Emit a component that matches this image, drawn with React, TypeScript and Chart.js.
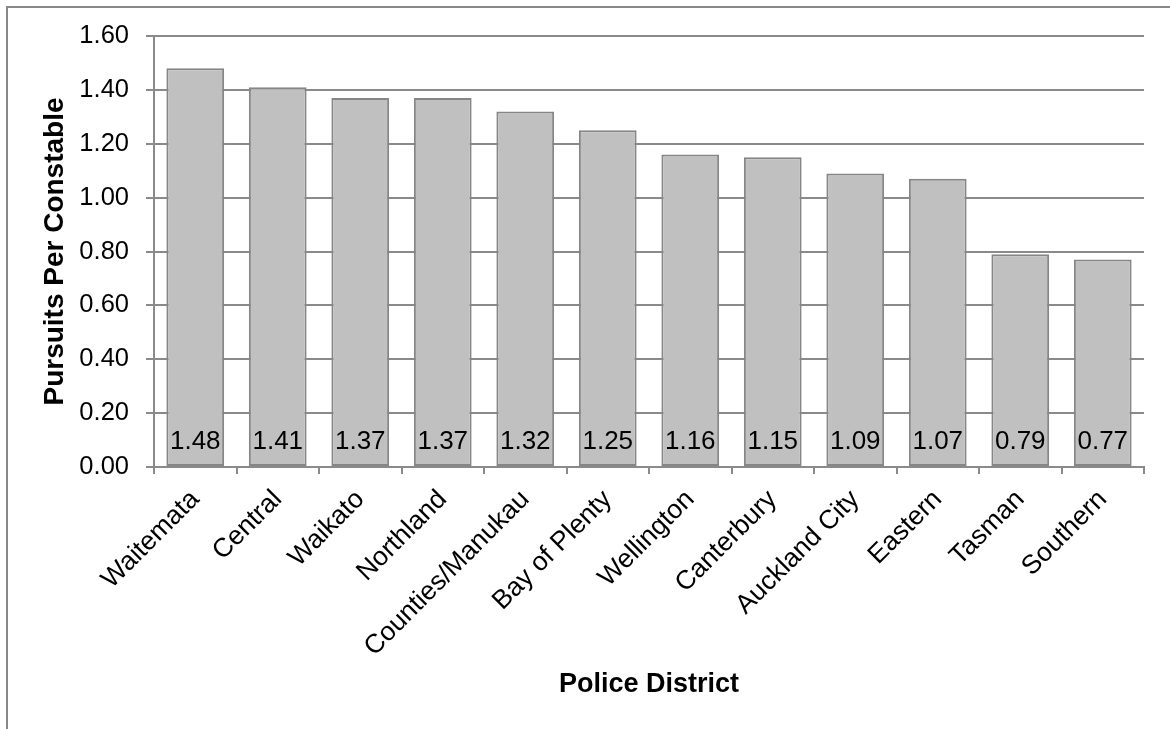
import React, { useEffect, useRef } from "react";
import { Chart, registerables } from "chart.js";

Chart.register(...registerables);

// Pursuit rate by police district
const districts = [
  "Waitemata",
  "Central",
  "Waikato",
  "Northland",
  "Counties/Manukau",
  "Bay of Plenty",
  "Wellington",
  "Canterbury",
  "Auckland City",
  "Eastern",
  "Tasman",
  "Southern",
];
const pursuitsPerConstable = [1.48, 1.41, 1.37, 1.37, 1.32, 1.25, 1.16, 1.15, 1.09, 1.07, 0.79, 0.77];

const yMin = 0;
const yMax = 1.6;
const yStep = 0.2;

const FONT = "'Liberation Sans', Arial, sans-serif";
const GRID = "#8a8a8a";

// Grey frame around the whole chart object
const framePlugin = {
  id: "frame",
  beforeDraw(chart: any) {
    const { ctx, width, height } = chart;
    ctx.save();
    ctx.fillStyle = "#ffffff";
    ctx.fillRect(0, 0, width, height);
    ctx.strokeStyle = "#888888";
    ctx.lineWidth = 2;
    ctx.beginPath();
    ctx.moveTo(7, height + 10);
    ctx.lineTo(7, 7);
    ctx.lineTo(width + 10, 7);
    ctx.stroke();
    ctx.restore();
  },
};

// Value labels sitting at the base of each bar
const baseLabelPlugin = {
  id: "baseLabels",
  afterDatasetsDraw(chart: any) {
    const { ctx } = chart;
    const meta = chart.getDatasetMeta(0);
    const yScale = chart.scales.y;
    const base = yScale.getPixelForValue(0);
    ctx.save();
    ctx.font = `26px ${FONT}`;
    ctx.fillStyle = "#000000";
    ctx.textAlign = "center";
    ctx.textBaseline = "alphabetic";
    meta.data.forEach((bar: any, i: number) => {
      const v = chart.data.datasets[0].data[i] as number;
      ctx.fillText(v.toFixed(2), bar.x, base - 18);
    });
    ctx.restore();
  },
};

export default function App() {
  const canvasRef = useRef<HTMLCanvasElement | null>(null);

  useEffect(() => {
    if (!canvasRef.current) return;
    const chart = new Chart(canvasRef.current, {
      type: "bar",
      data: {
        labels: districts,
        datasets: [
          {
            data: pursuitsPerConstable,
            backgroundColor: "#c0c0c0",
            borderColor: "#868686",
            borderWidth: 2,
            borderSkipped: false,
            barPercentage: 0.7,
            categoryPercentage: 1,
          },
        ],
      },
      options: {
        animation: false,
        responsive: false,
        maintainAspectRatio: false,
        layout: { padding: { top: 36, right: 26, left: 0, bottom: 0 } },
        plugins: {
          legend: { display: false },
          tooltip: { enabled: false },
        },
        scales: {
          x: {
            offset: true,
            afterFit(scale: any) {
              scale.height = 262;
            },
            grid: {
              offset: true,
              drawOnChartArea: false,
              drawTicks: true,
              tickLength: 7,
              color: GRID,
              lineWidth: 2,
            },
            border: { display: true, color: GRID, width: 2 },
            ticks: {
              autoSkip: false,
              maxRotation: 45,
              minRotation: 45,
              padding: 10,
              color: "#000000",
              font: { family: FONT, size: 26.5 },
            },
            title: {
              display: true,
              text: "Police District",
              color: "#000000",
              font: { family: FONT, size: 27, weight: "bold" },
              padding: { top: 0, bottom: 28 },
            },
          },
          y: {
            min: yMin,
            max: yMax,
            afterFit(scale: any) {
              scale.width = 154;
            },
            grid: {
              color: GRID,
              lineWidth: 2,
              tickLength: 8,
              drawTicks: true,
            },
            border: { display: true, color: GRID, width: 2 },
            ticks: {
              stepSize: yStep,
              padding: 17,
              color: "#000000",
              font: { family: FONT, size: 25.5 },
              callback: (v: any) => Number(v).toFixed(2),
            },
            title: {
              display: true,
              text: "Pursuits Per Constable",
              color: "#000000",
              font: { family: FONT, size: 28, weight: "bold" },
              padding: { top: 38, bottom: 0 },
            },
          },
        },
      },
      plugins: [framePlugin, baseLabelPlugin],
    });
    return () => chart.destroy();
  }, []);

  return (
    <div style={{ position: "fixed", left: 0, top: 0, width: 1170, height: 729, background: "#fff" }}>
      <canvas ref={canvasRef} width={1170} height={729} style={{ display: "block" }} />
    </div>
  );
}
